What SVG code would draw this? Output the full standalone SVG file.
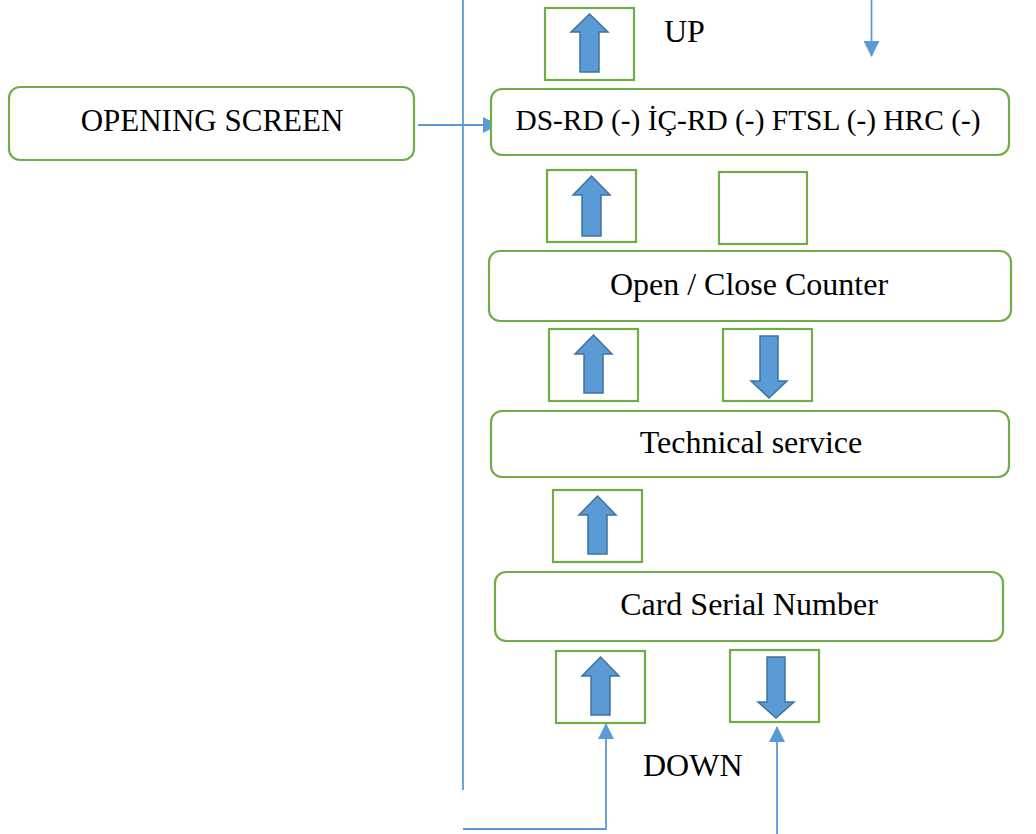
<svg xmlns="http://www.w3.org/2000/svg" width="1036" height="834" viewBox="0 0 1036 834">
<style>
.node{fill:#fff;stroke:#70AD47;stroke-width:2.2}
.sq{fill:#fff;stroke:#70AD47;stroke-width:2.2}
.t{font-family:"Liberation Serif","Times New Roman",serif;font-size:32px;fill:#000}
.ba{fill:#5B9BD5;stroke:#41719C;stroke-width:1.5}
.c{fill:none;stroke:#5B9BD5;stroke-width:1.8}
</style>
<defs>
<marker id="ah2" markerWidth="16" markerHeight="16" refX="15" refY="8" orient="auto" markerUnits="userSpaceOnUse" viewBox="0 0 16 16">
<path d="M0,0 L16,8 L0,16 Z" fill="#5B9BD5"/>
</marker>
</defs>
<rect width="1036" height="834" fill="#fff"/>
<g id="connectors">
<line class="c" x1="463" y1="0" x2="463" y2="790"/>
<line class="c" x1="418" y1="125" x2="498" y2="125" marker-end="url(#ah2)"/>
<line class="c" x1="871.5" y1="0" x2="871.5" y2="56" marker-end="url(#ah2)"/>
<polyline class="c" points="463,829 606,829 606,724" marker-end="url(#ah2)"/>
<line class="c" x1="777" y1="834" x2="777" y2="727" marker-end="url(#ah2)"/>
</g>
<g id="opening-screen">
<rect class="node" x="9" y="87" width="405" height="73" rx="11"/>
<text class="t" x="212" y="131" text-anchor="middle" style="font-size:31px">OPENING SCREEN</text>
</g>
<g id="ds-rd">
<rect class="node" x="491" y="89" width="518" height="66" rx="11"/>
<text class="t" x="748" y="130" text-anchor="middle" style="font-size:29.4px">DS-RD (-) İÇ-RD (-) FTSL (-) HRC (-)</text>
</g>
<g id="open-close">
<rect class="node" x="489" y="251" width="522" height="70" rx="11"/>
<text class="t" x="749" y="295" text-anchor="middle">Open / Close Counter</text>
</g>
<g id="technical">
<rect class="node" x="491" y="411" width="518" height="66" rx="11"/>
<text class="t" x="751" y="453" text-anchor="middle">Technical service</text>
</g>
<g id="card-serial">
<rect class="node" x="495" y="572" width="508" height="69" rx="11"/>
<text class="t" x="749" y="615" text-anchor="middle">Card Serial Number</text>
</g>
<g id="up-label"><text class="t" x="664" y="42">UP</text></g>
<g id="down-label"><text class="t" x="643" y="776">DOWN</text></g>
<g id="btn-up-1">
<rect class="sq" x="545" y="8" width="89" height="72"/>
<path class="ba" d="M589.5,14 L608,32 L599,32 L599,72 L580,72 L580,32 L571,32 Z"/>
</g>
<g id="btn-up-2">
<rect class="sq" x="547" y="170" width="89" height="72"/>
<path class="ba" d="M591.5,176 L610,195 L601,195 L601,236 L582,236 L582,195 L573,195 Z"/>
</g>
<g id="btn-empty">
<rect class="sq" x="719" y="172" width="88" height="72"/>
</g>
<g id="btn-up-3">
<rect class="sq" x="549" y="329" width="89" height="72"/>
<path class="ba" d="M593.5,335 L612,354 L603,354 L603,393 L584,393 L584,354 L575,354 Z"/>
</g>
<g id="btn-down-3">
<rect class="sq" x="723" y="329" width="89" height="72"/>
<path class="ba" d="M760,336 L778,336 L778,381 L787,381 L769,398 L751,381 L760,381 Z"/>
</g>
<g id="btn-up-4">
<rect class="sq" x="553" y="490" width="89" height="72"/>
<path class="ba" d="M597.5,496 L616,515 L607,515 L607,554 L588,554 L588,515 L579,515 Z"/>
</g>
<g id="btn-up-5">
<rect class="sq" x="556" y="651" width="89" height="72"/>
<path class="ba" d="M600.5,657 L619,676 L610,676 L610,715 L591,715 L591,676 L582,676 Z"/>
</g>
<g id="btn-down-5">
<rect class="sq" x="730" y="650" width="89" height="72"/>
<path class="ba" d="M767,657 L785,657 L785,702 L794,702 L776,718 L758,702 L767,702 Z"/>
</g>
</svg>
